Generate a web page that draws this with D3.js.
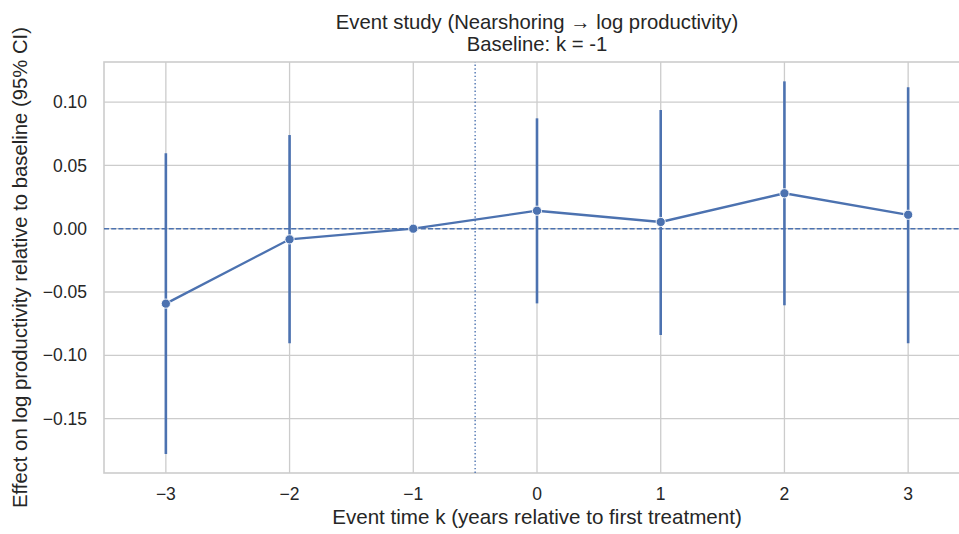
<!DOCTYPE html>
<html>
<head>
<meta charset="utf-8">
<script src="https://cdn.jsdelivr.net/npm/d3@7"></script>
<style>
  body { margin: 0; background: #fff; }
  svg { display: block; font-family: "Liberation Sans", Arial, sans-serif; }
</style>
</head>
<body>
<svg id="chart" width="959" height="534"></svg>
<script>
// event study estimates
var eventTimes = [-3, -2, -1, 0, 1, 2, 3];
var estimates = [-0.0592, -0.0084, 0, 0.0142, 0.0053, 0.028, 0.011];
var ciLow = [-0.178, -0.0905, null, -0.059, -0.084, -0.0605, -0.0905];
var ciHigh = [0.0596, 0.074, null, 0.0872, 0.0938, 0.1164, 0.1117];
var yTicks = [-0.15, -0.10, -0.05, 0.00, 0.05, 0.10];
var baselineK = -1;

var svg = d3.select("#chart"),
    margin = { left: 104, top: 62, right: -11, bottom: 61 },
    width = +svg.attr("width"),
    height = +svg.attr("height");

var blue = "#4c72b0";
var grid = "#cccccc";
var ink = "#262626";

var x = d3.scaleLinear()
    .domain([-3.5, 3.5])
    .range([margin.left, width - margin.right]);
var y = d3.scaleLinear()
    .domain([-0.193, 0.1317])
    .range([height - margin.bottom, margin.top]);

var points = eventTimes.map(function(k, i) {
  return { k: k, est: estimates[i], lo: ciLow[i], hi: ciHigh[i] };
});

// grid lines
svg.append("g")
  .selectAll("line")
  .data(yTicks)
  .enter().append("line")
    .attr("x1", x.range()[0]).attr("x2", x.range()[1])
    .attr("y1", function(d) { return y(d); })
    .attr("y2", function(d) { return y(d); })
    .attr("stroke", grid).attr("stroke-width", 1.3);

svg.append("g")
  .selectAll("line")
  .data(eventTimes)
  .enter().append("line")
    .attr("x1", function(d) { return x(d); })
    .attr("x2", function(d) { return x(d); })
    .attr("y1", y.range()[0]).attr("y2", y.range()[1])
    .attr("stroke", grid).attr("stroke-width", 1.3);

// spines
svg.append("rect")
    .attr("x", x.range()[0]).attr("y", y.range()[1])
    .attr("width", x.range()[1] - x.range()[0])
    .attr("height", y.range()[0] - y.range()[1])
    .attr("fill", "none").attr("stroke", grid).attr("stroke-width", 1.6);

// reference lines
svg.append("line")
    .attr("x1", x.range()[0]).attr("x2", x.range()[1])
    .attr("y1", y(0)).attr("y2", y(0))
    .attr("stroke", blue).attr("stroke-width", 1.4)
    .attr("stroke-dasharray", "5,2.2");

svg.append("line")
    .attr("x1", x(baselineK + 0.5)).attr("x2", x(baselineK + 0.5))
    .attr("y1", y.range()[0]).attr("y2", y.range()[1])
    .attr("stroke", blue).attr("stroke-width", 1.4)
    .attr("stroke-dasharray", "1.4,2.3");

// confidence intervals
svg.append("g")
  .selectAll("line")
  .data(points.filter(function(d) { return d.lo != null; }))
  .enter().append("line")
    .attr("x1", function(d) { return x(d.k); })
    .attr("x2", function(d) { return x(d.k); })
    .attr("y1", function(d) { return y(d.lo); })
    .attr("y2", function(d) { return y(d.hi); })
    .attr("stroke", blue).attr("stroke-width", 2.6);

// point estimates
var line = d3.line()
    .x(function(d) { return x(d.k); })
    .y(function(d) { return y(d.est); });

svg.append("path")
    .datum(points)
    .attr("d", line)
    .attr("fill", "none")
    .attr("stroke", blue).attr("stroke-width", 2.3);

svg.append("g")
  .selectAll("circle")
  .data(points)
  .enter().append("circle")
    .attr("cx", function(d) { return x(d.k); })
    .attr("cy", function(d) { return y(d.est); })
    .attr("r", 4.6)
    .attr("fill", blue)
    .attr("stroke", "#fff").attr("stroke-width", 0.9);

// tick labels
var fmt = function(d) { return d3.format(".2f")(d).replace("-", "\u2212"); };

svg.append("g")
  .selectAll("text")
  .data(yTicks)
  .enter().append("text")
    .attr("x", 87)
    .attr("y", function(d) { return y(d); })
    .attr("dy", "0.35em")
    .attr("text-anchor", "end")
    .attr("font-size", 17.5)
    .attr("fill", ink)
    .text(fmt);

svg.append("g")
  .selectAll("text")
  .data(eventTimes)
  .enter().append("text")
    .attr("x", function(d) { return x(d); })
    .attr("y", 500)
    .attr("text-anchor", "middle")
    .attr("font-size", 17.5)
    .attr("fill", ink)
    .text(function(d) { return String(d).replace("-", "\u2212"); });

// axis labels and title
svg.append("text")
    .attr("x", (x.range()[0] + x.range()[1]) / 2)
    .attr("y", 524)
    .attr("text-anchor", "middle")
    .attr("font-size", 20.6)
    .attr("fill", ink)
    .text("Event time k (years relative to first treatment)");

svg.append("text")
    .attr("transform", "translate(27," + ((y.range()[0] + y.range()[1]) / 2) + ") rotate(-90)")
    .attr("text-anchor", "middle")
    .attr("font-size", 20.3)
    .attr("fill", ink)
    .text("Effect on log productivity relative to baseline (95% CI)");

var title = svg.append("text")
    .attr("text-anchor", "middle")
    .attr("font-size", 20.3)
    .attr("fill", ink);
title.append("tspan")
    .attr("x", (x.range()[0] + x.range()[1]) / 2).attr("y", 29)
    .text("Event study (Nearshoring \u2192 log productivity)");
title.append("tspan")
    .attr("x", (x.range()[0] + x.range()[1]) / 2).attr("y", 51)
    .text("Baseline: k = -1");
</script>
</body>
</html>
